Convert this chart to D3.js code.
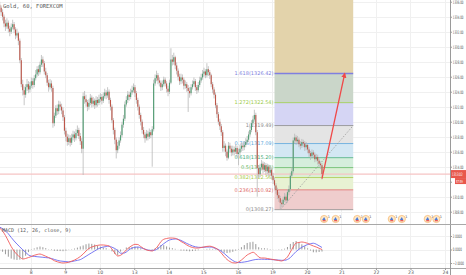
<!DOCTYPE html>
<html>
<head>
<meta charset="utf-8">
<script src="https://cdn.jsdelivr.net/npm/d3@7"></script>
<style>
  body { margin: 0; background: #fff; }
  svg { display: block; font-family: 'DejaVu Sans', sans-serif; }
</style>
</head>
<body>
<svg id="chart" width="466" height="275"></svg>
<script>
// Gold, 60 min candles. hour 0 = start of day 7, first candle at hour 2
const firstHour = 2;

const opens = [
  1335.6, 1335.2, 1334.6, 1334.0, 1333.1, 1332.7, 1333.2, 1332.4, 1332.0, 1332.6,
  1333.0, 1332.3, 1331.5, 1331.8, 1330.8, 1328.2, 1325.0, 1324.2, 1323.6, 1324.6,
  1325.0, 1324.3, 1324.8, 1325.4, 1324.9, 1325.8, 1326.3, 1327.0, 1326.6, 1327.6,
  1328.3, 1327.8, 1326.7, 1326.2, 1325.2, 1324.6, 1325.1, 1324.5, 1319.8, 1320.8,
  1321.8, 1321.4, 1322.3, 1322.0, 1321.5, 1320.6, 1318.8, 1318.0, 1317.3, 1317.8,
  1317.2, 1317.9, 1318.3, 1317.8, 1318.5, 1318.9, 1318.1, 1317.4, 1316.4, 1323.4,
  1323.0, 1322.6, 1322.0, 1322.5, 1323.2, 1322.4, 1322.8, 1322.2, 1322.9, 1322.5,
  1323.0, 1323.3, 1322.8, 1323.4, 1323.9, 1323.5, 1324.0, 1322.9, 1322.0, 1320.2,
  1318.9, 1317.6, 1316.2, 1316.8, 1317.5, 1318.2, 1319.6, 1320.4, 1322.3, 1322.9,
  1323.6, 1323.3, 1323.9, 1324.2, 1324.6, 1323.8, 1322.9, 1322.0, 1320.9, 1320.0,
  1318.9, 1318.3, 1317.8, 1318.4, 1318.0, 1318.6, 1318.2, 1319.0, 1325.1, 1325.8,
  1326.2, 1325.5, 1325.2, 1324.6, 1325.0, 1325.6, 1325.1, 1324.4, 1324.0, 1325.2,
  1328.3, 1328.0, 1328.6, 1327.5, 1326.8, 1326.0, 1325.4, 1325.9, 1325.6, 1324.8,
  1325.0, 1324.5, 1324.1, 1323.8, 1324.6, 1325.0, 1325.4, 1324.6, 1324.2, 1324.9,
  1325.5, 1325.9, 1326.4, 1326.7, 1326.2, 1327.0, 1326.6, 1326.2, 1325.0, 1324.3,
  1323.6, 1322.2, 1321.0, 1320.0, 1319.4, 1318.6, 1316.5, 1316.8, 1316.0, 1315.2,
  1316.8, 1316.4, 1315.9, 1316.3, 1316.0, 1316.5, 1315.7, 1315.9, 1316.4, 1316.8,
  1316.6, 1316.9, 1317.3, 1317.6, 1318.3, 1318.9, 1319.8, 1320.3, 1320.9, 1318.6,
  1313.8, 1313.0, 1313.9, 1314.4, 1313.6, 1314.2, 1313.4, 1314.0, 1313.2, 1313.6,
  1312.8, 1312.2, 1311.5, 1310.9, 1310.2, 1309.8, 1309.2, 1309.0, 1309.6, 1310.0,
  1309.5, 1310.6, 1311.0, 1312.8, 1313.4, 1317.5, 1317.9, 1317.4, 1317.6, 1317.0,
  1316.8, 1317.3, 1317.1, 1316.6, 1316.9, 1316.3, 1315.8, 1315.4, 1315.9, 1315.6,
  1315.0, 1315.3, 1314.8, 1314.4, 1314.2
];
const highs = [
  1336.0, 1335.5, 1335.0, 1334.3, 1333.6, 1333.8, 1333.5, 1332.8, 1333.1, 1333.6,
  1333.3, 1332.6, 1332.4, 1332.0, 1331.1, 1328.5, 1325.6, 1324.7, 1325.0, 1325.7,
  1325.4, 1325.3, 1325.9, 1325.8, 1326.2, 1326.9, 1327.4, 1327.5, 1328.0, 1328.9,
  1328.7, 1328.1, 1327.2, 1326.5, 1325.6, 1325.7, 1325.5, 1324.8, 1321.2, 1322.2,
  1322.3, 1322.8, 1322.7, 1322.4, 1321.9, 1320.9, 1319.2, 1318.4, 1318.3, 1318.2,
  1318.4, 1318.8, 1318.7, 1319.0, 1319.5, 1319.2, 1318.5, 1317.8, 1323.9, 1324.1,
  1323.6, 1322.9, 1323.0, 1323.7, 1323.5, 1323.3, 1323.1, 1323.4, 1323.3, 1323.6,
  1323.8, 1323.7, 1323.9, 1324.4, 1324.2, 1324.6, 1324.3, 1323.2, 1322.3, 1320.5,
  1319.2, 1317.9, 1317.3, 1317.9, 1318.7, 1320.0, 1320.9, 1322.7, 1323.4, 1324.1,
  1324.0, 1324.4, 1324.8, 1325.1, 1324.9, 1324.1, 1323.2, 1322.3, 1321.2, 1320.3,
  1319.3, 1318.6, 1318.9, 1318.8, 1319.1, 1318.9, 1319.4, 1325.6, 1326.3, 1326.8,
  1326.5, 1325.9, 1325.5, 1325.5, 1326.0, 1325.9, 1325.4, 1324.8, 1325.6, 1329.8,
  1328.9, 1329.2, 1328.8, 1327.9, 1327.1, 1326.4, 1326.4, 1326.3, 1325.9, 1325.5,
  1325.3, 1324.9, 1324.6, 1325.0, 1325.5, 1325.9, 1325.7, 1324.9, 1325.3, 1326.0,
  1326.4, 1326.9, 1327.2, 1327.0, 1327.8, 1327.4, 1326.9, 1326.4, 1325.3, 1324.6,
  1323.9, 1322.5, 1321.3, 1320.4, 1319.7, 1318.9, 1317.4, 1317.1, 1316.3, 1317.3,
  1317.2, 1316.8, 1316.8, 1316.7, 1317.0, 1316.8, 1316.4, 1316.9, 1317.2, 1317.2,
  1317.4, 1317.8, 1318.1, 1318.7, 1319.4, 1320.2, 1320.8, 1321.6, 1321.2, 1318.9,
  1314.2, 1314.4, 1314.9, 1314.7, 1314.6, 1314.5, 1314.4, 1314.3, 1314.1, 1313.9,
  1313.2, 1312.5, 1311.8, 1311.2, 1310.6, 1310.1, 1309.6, 1310.0, 1310.5, 1310.3,
  1311.0, 1311.5, 1313.2, 1313.9, 1317.9, 1318.4, 1318.2, 1318.1, 1317.9, 1317.4,
  1317.7, 1317.6, 1317.4, 1317.3, 1317.1, 1316.6, 1316.1, 1316.3, 1316.2, 1315.9,
  1315.7, 1315.6, 1315.1, 1314.7, 1314.5
];
const lows = [
  1334.8, 1334.1, 1333.5, 1332.6, 1332.1, 1332.4, 1331.9, 1331.4, 1331.7, 1332.3,
  1331.8, 1331.0, 1331.2, 1330.2, 1327.8, 1324.6, 1323.5, 1322.2, 1323.2, 1324.1,
  1323.8, 1323.9, 1324.5, 1324.4, 1324.6, 1325.5, 1326.0, 1326.1, 1326.3, 1327.3,
  1327.3, 1326.3, 1325.8, 1324.8, 1324.0, 1324.3, 1324.0, 1319.2, 1319.4, 1320.5,
  1320.9, 1321.0, 1321.5, 1321.0, 1320.1, 1318.3, 1317.4, 1316.8, 1316.9, 1316.7,
  1316.9, 1317.5, 1317.3, 1317.5, 1318.1, 1317.7, 1316.9, 1315.8, 1312.9, 1322.4,
  1322.0, 1321.4, 1321.6, 1322.2, 1321.9, 1322.0, 1321.7, 1321.9, 1322.0, 1322.2,
  1322.6, 1322.3, 1322.5, 1323.1, 1323.0, 1323.2, 1322.4, 1321.5, 1319.8, 1318.3,
  1317.0, 1315.1, 1315.8, 1316.4, 1317.2, 1317.9, 1319.2, 1320.1, 1322.0, 1322.5,
  1322.8, 1323.0, 1323.6, 1323.9, 1323.3, 1322.4, 1321.5, 1320.4, 1319.5, 1318.4,
  1317.8, 1317.2, 1317.5, 1317.5, 1317.7, 1317.8, 1314.0, 1318.7, 1324.8, 1325.4,
  1325.0, 1324.7, 1324.1, 1324.2, 1324.7, 1324.7, 1323.9, 1323.4, 1323.7, 1325.0,
  1327.5, 1327.6, 1327.0, 1326.3, 1325.5, 1324.9, 1325.0, 1325.1, 1324.3, 1324.4,
  1324.0, 1321.3, 1323.2, 1323.5, 1324.3, 1324.7, 1324.1, 1323.7, 1323.9, 1324.6,
  1325.2, 1325.6, 1326.0, 1325.8, 1325.9, 1326.1, 1325.7, 1324.6, 1323.8, 1323.1,
  1321.8, 1320.5, 1319.6, 1318.9, 1318.1, 1316.0, 1316.0, 1315.4, 1314.8, 1315.0,
  1315.9, 1315.4, 1315.5, 1315.5, 1315.7, 1315.2, 1314.2, 1315.5, 1316.0, 1316.1,
  1316.2, 1316.6, 1317.0, 1317.3, 1318.0, 1318.6, 1319.5, 1320.0, 1318.2, 1310.0,
  1312.5, 1312.6, 1313.5, 1313.1, 1313.3, 1312.9, 1313.0, 1312.7, 1312.8, 1312.3,
  1311.7, 1311.0, 1310.4, 1309.7, 1309.3, 1308.27, 1308.6, 1308.7, 1309.3, 1309.0,
  1309.2, 1310.2, 1310.7, 1312.5, 1313.1, 1317.1, 1316.9, 1317.0, 1316.6, 1316.3,
  1316.5, 1316.6, 1316.1, 1316.2, 1315.8, 1315.3, 1314.9, 1315.1, 1315.2, 1314.6,
  1314.7, 1314.3, 1313.9, 1313.7, 1312.3
];
const closes = [
  1335.2, 1334.6, 1334.0, 1333.1, 1332.7, 1333.2, 1332.4, 1332.0, 1332.6, 1333.0,
  1332.3, 1331.5, 1331.8, 1330.8, 1328.2, 1325.0, 1324.2, 1323.6, 1324.6, 1325.0,
  1324.3, 1324.8, 1325.4, 1324.9, 1325.8, 1326.3, 1327.0, 1326.6, 1327.6, 1328.3,
  1327.8, 1326.7, 1326.2, 1325.2, 1324.6, 1325.1, 1324.5, 1319.8, 1320.8, 1321.8,
  1321.4, 1322.3, 1322.0, 1321.5, 1320.6, 1318.8, 1318.0, 1317.3, 1317.8, 1317.2,
  1317.9, 1318.3, 1317.8, 1318.5, 1318.9, 1318.1, 1317.4, 1316.4, 1323.4, 1323.0,
  1322.6, 1322.0, 1322.5, 1323.2, 1322.4, 1322.8, 1322.2, 1322.9, 1322.5, 1323.0,
  1323.3, 1322.8, 1323.4, 1323.9, 1323.5, 1324.0, 1322.9, 1322.0, 1320.2, 1318.9,
  1317.6, 1316.2, 1316.8, 1317.5, 1318.2, 1319.6, 1320.4, 1322.3, 1322.9, 1323.6,
  1323.3, 1323.9, 1324.2, 1324.6, 1323.8, 1322.9, 1322.0, 1320.9, 1320.0, 1318.9,
  1318.3, 1317.8, 1318.4, 1318.0, 1318.6, 1318.2, 1319.0, 1325.1, 1325.8, 1326.2,
  1325.5, 1325.2, 1324.6, 1325.0, 1325.6, 1325.1, 1324.4, 1324.0, 1325.2, 1328.3,
  1328.0, 1328.6, 1327.5, 1326.8, 1326.0, 1325.4, 1325.9, 1325.6, 1324.8, 1325.0,
  1324.5, 1324.1, 1323.8, 1324.6, 1325.0, 1325.4, 1324.6, 1324.2, 1324.9, 1325.5,
  1325.9, 1326.4, 1326.7, 1326.2, 1327.0, 1326.6, 1326.2, 1325.0, 1324.3, 1323.6,
  1322.2, 1321.0, 1320.0, 1319.4, 1318.6, 1316.5, 1316.8, 1316.0, 1315.2, 1316.8,
  1316.4, 1315.9, 1316.3, 1316.0, 1316.5, 1315.7, 1315.9, 1316.4, 1316.8, 1316.6,
  1316.9, 1317.3, 1317.6, 1318.3, 1318.9, 1319.8, 1320.3, 1320.9, 1318.6, 1313.8,
  1313.0, 1313.9, 1314.4, 1313.6, 1314.2, 1313.4, 1314.0, 1313.2, 1313.6, 1312.8,
  1312.2, 1311.5, 1310.9, 1310.2, 1309.8, 1309.2, 1309.0, 1309.6, 1310.0, 1309.5,
  1310.6, 1311.0, 1312.8, 1313.4, 1317.5, 1317.9, 1317.4, 1317.6, 1317.0, 1316.8,
  1317.3, 1317.1, 1316.6, 1316.9, 1316.3, 1315.8, 1315.4, 1315.9, 1315.6, 1315.0,
  1315.3, 1314.8, 1314.4, 1314.2, 1313.02
];

// MACD (12, 26, close, 9), one value every 2 hours starting at hour 2
const macdFirstHour = 2;
const macdStepHours = 2;
const macdLine = [
  3.19, 2.74, 2.07, 1.26, 0.44, -0.22, -0.74, -1.11, -1.41, -1.33,
  -1.19, -1.04, -0.86, -0.74, -0.67, -0.81, -1.0, -1.19, -1.41, -1.66,
  -1.82, -1.93, -2.0, -1.97, -1.88, -1.73, -1.56, -1.33, -1.04, -0.67,
  -0.22, 0.15, 0.37, 0.52, 0.61, 0.67, 0.67, 0.62, 0.52, 0.07,
  -0.52, -0.96, -0.86, -0.52, -0.07, 0.3, 0.59, 0.77, 0.74, 0.44,
  0.15, -0.07, -0.16, -0.22, 0.07, 0.52, 1.16, 1.51, 1.63, 1.7,
  1.7, 1.66, 1.48, 1.19, 0.96, 0.67, 0.44, 0.3, 0.22, 0.22,
  0.3, 0.37, 0.46, 0.49, 0.4, 0.22, -0.07, -0.52, -1.04, -1.48,
  -1.78, -1.97, -2.0, -1.85, -1.56, -1.19, -0.81, -0.59, -0.41, -0.67,
  -1.11, -1.26, -1.26, -1.33, -1.41, -1.48, -1.56, -1.63, -1.7, -1.48,
  -1.11, -0.37, 0.37, 0.96, 1.04, 1.11, 1.04, 0.92, 0.7, 0.52,
  0.37, 0.18, 0.0
];
const signalLine = [
  3.33, 3.07, 2.77, 2.33, 1.79, 1.27, 0.81, 0.39, -0.04, -0.41,
  -0.8, -0.98, -1.02, -1.07, -1.11, -1.15, -1.2, -1.24, -1.33, -1.47,
  -1.6, -1.7, -1.75, -1.79, -1.84, -1.79, -1.7, -1.61, -1.5, -1.27,
  -1.0, -0.73, -0.47, -0.22, 0.04, 0.25, 0.37, 0.43, 0.49, 0.34,
  0.15, -0.15, -0.55, -0.55, -0.37, -0.03, 0.22, 0.33, 0.37, 0.27,
  0.13, -0.01, -0.12, -0.13, -0.09, 0.15, 0.52, 0.86, 1.17, 1.41,
  1.5, 1.56, 1.5, 1.35, 1.13, 0.9, 0.71, 0.53, 0.4, 0.33,
  0.31, 0.34, 0.37, 0.37, 0.31, 0.16, -0.01, -0.25, -0.58, -0.96,
  -1.33, -1.63, -1.84, -1.93, -1.91, -1.85, -1.78, -1.67, -1.56, -1.48,
  -1.45, -1.44, -1.45, -1.47, -1.48, -1.51, -1.54, -1.57, -1.6, -1.6,
  -1.48, -1.2, -0.74, -0.3, 0.03, 0.34, 0.55, 0.74, 0.86, 0.93,
  0.79, 0.55, 0.3
];

const dayLabels = ['8', '9', '10', '13', '14', '15', '16', '19', '20', '21', '22', '23', '24'];
const priceTicks = [1308, 1310, 1312, 1314, 1316, 1318, 1320, 1322, 1324, 1326, 1328, 1330, 1332, 1334, 1336];
const macdTicks = [-2, 0, 2];

// fibonacci retracement drawn on the chart
const fibLow = 1308.27, fibHigh = 1319.49;
const fibStartHour = 193.5, fibAnchorHour = 197.5, fibEndHour = 248.2;
const fibRatios = [0, 0.236, 0.382, 0.5, 0.618, 0.786, 1, 1.272, 1.618, 2.618];
const fibLineColors = ['#8c8c8c', '#e06a6a', '#a8cc48', '#62b862', '#48ad7c', '#5aa6dc', '#8c8c8c', '#9ccb4a', '#7f7fe0', '#d8b060'];
const fibFillColors = [null, '#efcdcd', '#e8f2d3', '#dbefd5', '#d5eedc', '#d3e7f3', '#e4e4e4', '#d5d5f4', '#cad6c9', '#e3d3ab'];

// forecast arrow
const arrowFrom = { hour: 226.5, price: 1312.4 };
const arrowTo = { hour: 242.3, price: 1326.42 };

const eventHours = [228, 236, 251, 257, 275, 282, 300, 306];
const lastPrice = 1313.02;
const countdown = '57:59';

const svg = d3.select('#chart');
const axisX = 450;
const mainTop = 0, mainBottom = 224, macdTop = 225, macdBottom = 268;

const x = d3.scaleLinear().domain([0, 312]).range([-3.9, 445]);
const y = d3.scaleLinear().domain([1306.36, 1336.23]).range([mainBottom, mainTop]);
const ym = d3.scaleLinear().domain([-2.74, 3.63]).range([macdBottom, macdTop]);
const dayHours = dayLabels.map((d, i) => (i + 1) * 24);

svg.append('rect').attr('width', 466).attr('height', 275).attr('fill', '#fff');

const defs = svg.append('defs');
defs.append('clipPath').attr('id', 'clipMain')
  .append('rect').attr('x', 0).attr('y', mainTop).attr('width', axisX).attr('height', mainBottom - mainTop);
defs.append('clipPath').attr('id', 'clipMacd')
  .append('rect').attr('x', 0).attr('y', macdTop).attr('width', axisX).attr('height', macdBottom - macdTop);
defs.append('marker').attr('id', 'arrowHead')
  .attr('viewBox', '0 0 10 10').attr('refX', 8).attr('refY', 5)
  .attr('markerWidth', 4).attr('markerHeight', 4).attr('orient', 'auto')
  .append('path').attr('d', 'M0,0L10,5L0,10z').attr('fill', '#f04848');

// grid
const grid = svg.append('g').attr('stroke', '#f0f0f0').attr('stroke-width', 1);
grid.selectAll('line.h').data(priceTicks).enter().append('line')
  .attr('x1', 0).attr('x2', axisX)
  .attr('y1', d => Math.round(y(d)) + 0.5).attr('y2', d => Math.round(y(d)) + 0.5);
grid.selectAll('line.v').data(dayHours).enter().append('line')
  .attr('x1', d => Math.round(x(d)) + 0.5).attr('x2', d => Math.round(x(d)) + 0.5)
  .attr('y1', mainTop).attr('y2', macdBottom);
grid.selectAll('line.m').data(macdTicks).enter().append('line')
  .attr('x1', 0).attr('x2', axisX)
  .attr('y1', d => Math.round(ym(d)) + 0.5).attr('y2', d => Math.round(ym(d)) + 0.5);

const main = svg.append('g').attr('clip-path', 'url(#clipMain)');

// fib bands
const fibPrice = r => fibLow + r * (fibHigh - fibLow);
const fx0 = x(fibStartHour), fx1 = x(fibEndHour);
const bands = fibRatios.slice(1).map((r, i) => ({ lo: fibRatios[i], hi: r, fill: fibFillColors[i + 1] }));
main.selectAll('rect.band').data(bands).enter().append('rect')
  .attr('x', fx0).attr('width', fx1 - fx0)
  .attr('y', d => y(fibPrice(d.hi))).attr('height', d => y(fibPrice(d.lo)) - y(fibPrice(d.hi)))
  .attr('fill', d => d.fill);
main.selectAll('line.fib').data(fibRatios).enter().append('line')
  .attr('x1', fx0).attr('x2', fx1)
  .attr('y1', r => y(fibPrice(r))).attr('y2', r => y(fibPrice(r)))
  .attr('stroke', (r, i) => fibLineColors[i])
  .attr('stroke-width', r => r === 1.618 ? 1.6 : 0.8);
main.append('line')
  .attr('x1', x(fibAnchorHour)).attr('y1', y(fibLow))
  .attr('x2', fx1).attr('y2', y(fibHigh))
  .attr('stroke', '#9a9a9a').attr('stroke-width', 0.8).attr('stroke-dasharray', '1.5,1.5');
main.selectAll('text.fib').data(fibRatios.filter(r => r < 2)).enter().append('text')
  .attr('x', fx0 - 1).attr('y', r => y(fibPrice(r)) + 1.8)
  .attr('text-anchor', 'end').attr('font-size', 5)
  .attr('fill', r => fibLineColors[fibRatios.indexOf(r)])
  .text(r => r + '(' + fibPrice(r).toFixed(2) + ')');

// last price line
main.append('line').attr('x1', 0).attr('x2', axisX)
  .attr('y1', y(lastPrice)).attr('y2', y(lastPrice))
  .attr('stroke', '#f6c4c4').attr('stroke-width', 1.2);

// candles
const candles = closes.map((c, i) => ({ h: firstHour + i, o: opens[i], hi: highs[i], lo: lows[i], c: c }));
const upColor = '#4f9c72', downColor = '#bd5649';
main.selectAll('line.wick').data(candles).enter().append('line')
  .attr('x1', d => x(d.h + 0.5)).attr('x2', d => x(d.h + 0.5))
  .attr('y1', d => y(d.hi)).attr('y2', d => y(d.lo))
  .attr('stroke', '#b8b8b8').attr('stroke-width', 0.8);
main.selectAll('rect.body').data(candles).enter().append('rect')
  .attr('x', d => x(d.h + 0.5) - 0.55).attr('width', 1.1)
  .attr('y', d => y(Math.max(d.o, d.c)))
  .attr('height', d => Math.max(0.6, Math.abs(y(d.o) - y(d.c))))
  .attr('fill', d => d.c >= d.o ? upColor : downColor);

// arrow
main.append('line')
  .attr('x1', x(arrowFrom.hour)).attr('y1', y(arrowFrom.price))
  .attr('x2', x(arrowTo.hour)).attr('y2', y(arrowTo.price))
  .attr('stroke', '#f04848').attr('stroke-width', 1.3)
  .attr('marker-end', 'url(#arrowHead)');

// event markers
const ev = main.selectAll('g.ev').data(eventHours).enter().append('g')
  .attr('transform', h => `translate(${x(h)},219)`);
ev.append('circle').attr('r', 3.6).attr('fill', '#fde8c8').attr('stroke', '#f6b46a').attr('stroke-width', 0.7);
ev.append('path').attr('d', 'M-2,1L0,-2L1.5,1z').attr('fill', '#4a78d8');
ev.append('rect').attr('x', -1.5).attr('y', 1).attr('width', 3).attr('height', 1.3).attr('fill', '#e85a5a');
ev.append('text').attr('x', 3.5).attr('y', -1.5).attr('font-size', 3.5).attr('fill', '#555').text('1');

// MACD pane
const macd = svg.append('g').attr('clip-path', 'url(#clipMacd)');
const macdPts = macdLine.map((m, i) => ({ h: macdFirstHour + i * macdStepHours, m: m, s: signalLine[i] }));
macd.selectAll('rect.hist').data(macdPts).enter().append('rect')
  .attr('x', d => x(d.h + 0.5) - 0.5).attr('width', 1)
  .attr('y', d => Math.min(ym(d.m - d.s), ym(0)))
  .attr('height', d => Math.abs(ym(d.m - d.s) - ym(0)))
  .attr('fill', '#9a9a9a');
macd.append('path').datum(macdPts)
  .attr('d', d3.line().x(d => x(d.h + 0.5)).y(d => ym(d.s)).curve(d3.curveMonotoneX))
  .attr('fill', 'none').attr('stroke', '#6a6af0').attr('stroke-width', 0.9);
macd.append('path').datum(macdPts)
  .attr('d', d3.line().x(d => x(d.h + 0.5)).y(d => ym(d.m)).curve(d3.curveMonotoneX))
  .attr('fill', 'none').attr('stroke', '#f25a5a').attr('stroke-width', 0.9);

// pane separators
svg.append('line').attr('x1', 0).attr('x2', 466).attr('y1', mainBottom + 0.5).attr('y2', mainBottom + 0.5)
  .attr('stroke', '#a8a8a8').attr('stroke-width', 1.2);
svg.append('line').attr('x1', 0).attr('x2', 466).attr('y1', macdBottom + 0.5).attr('y2', macdBottom + 0.5)
  .attr('stroke', '#a8a8a8').attr('stroke-width', 1);

// axes
const tagY = y(lastPrice);
const styleAxis = g => {
  g.select('.domain').attr('stroke', '#9a9a9a');
  g.selectAll('.tick line').attr('stroke', '#9a9a9a');
  g.selectAll('.tick text').attr('fill', '#555').attr('font-size', 4.6).attr('font-family', 'DejaVu Sans, sans-serif');
};
// the axis strip is narrow, so labels are drawn horizontally condensed
const squeeze = g => g.selectAll('.tick text').attr('x', 0).attr('transform', 'translate(2.8,0) scale(0.56,1)');
// the axis tag hides the tick label that sits under it
const labelTicks = priceTicks.filter(p => y(p) < tagY - 6 || y(p) > tagY + 12);
svg.append('g').attr('transform', `translate(${axisX},0)`)
  .call(d3.axisRight(y).tickValues(priceTicks).tickFormat(d => labelTicks.includes(d) ? d3.format('.2f')(d) : '').tickSize(2))
  .call(styleAxis).call(squeeze)
  .call(g => g.select('.domain').attr('d', `M0.5,${mainTop}V${mainBottom}`));
svg.append('g').attr('transform', `translate(${axisX},0)`)
  .call(d3.axisRight(ym).tickValues(macdTicks).tickFormat(d3.format('.4f')).tickSize(2))
  .call(styleAxis).call(squeeze)
  .call(g => g.select('.domain').attr('d', `M0.5,${macdTop}V${macdBottom + 7}`));
svg.append('g').attr('transform', `translate(0,${macdBottom})`)
  .call(d3.axisBottom(x).tickValues(dayHours).tickFormat((d, i) => dayLabels[i]).tickSize(2).tickPadding(1))
  .call(styleAxis)
  .call(g => g.select('.domain').remove());

// price tags on the axis
svg.append('rect').attr('x', axisX + 1).attr('y', tagY - 4).attr('width', 15).attr('height', 8).attr('fill', '#e8574c');
svg.append('text').attr('transform', `translate(${axisX + 2},${tagY + 1.7}) scale(0.56,1)`)
  .attr('font-size', 4.6).attr('fill', '#fff').text(lastPrice.toFixed(2));
svg.append('rect').attr('x', axisX + 5).attr('y', tagY + 4).attr('width', 11).attr('height', 6).attr('fill', '#e8574c');
svg.append('text').attr('transform', `translate(${axisX + 6},${tagY + 8.5}) scale(0.6,1)`)
  .attr('font-size', 4).attr('fill', '#fff').text(countdown);

// titles
svg.append('text').attr('x', 3).attr('y', 7.5).attr('font-size', 5.5).attr('fill', '#555')
  .attr('font-family', 'DejaVu Sans Mono, monospace').text('Gold, 60, FOREXCOM');
svg.append('text').attr('x', 2).attr('y', 232).attr('font-size', 5).attr('fill', '#555')
  .attr('font-family', 'DejaVu Sans Mono, monospace').text('MACD (12, 26, close, 9)');
</script>
</body>
</html>
